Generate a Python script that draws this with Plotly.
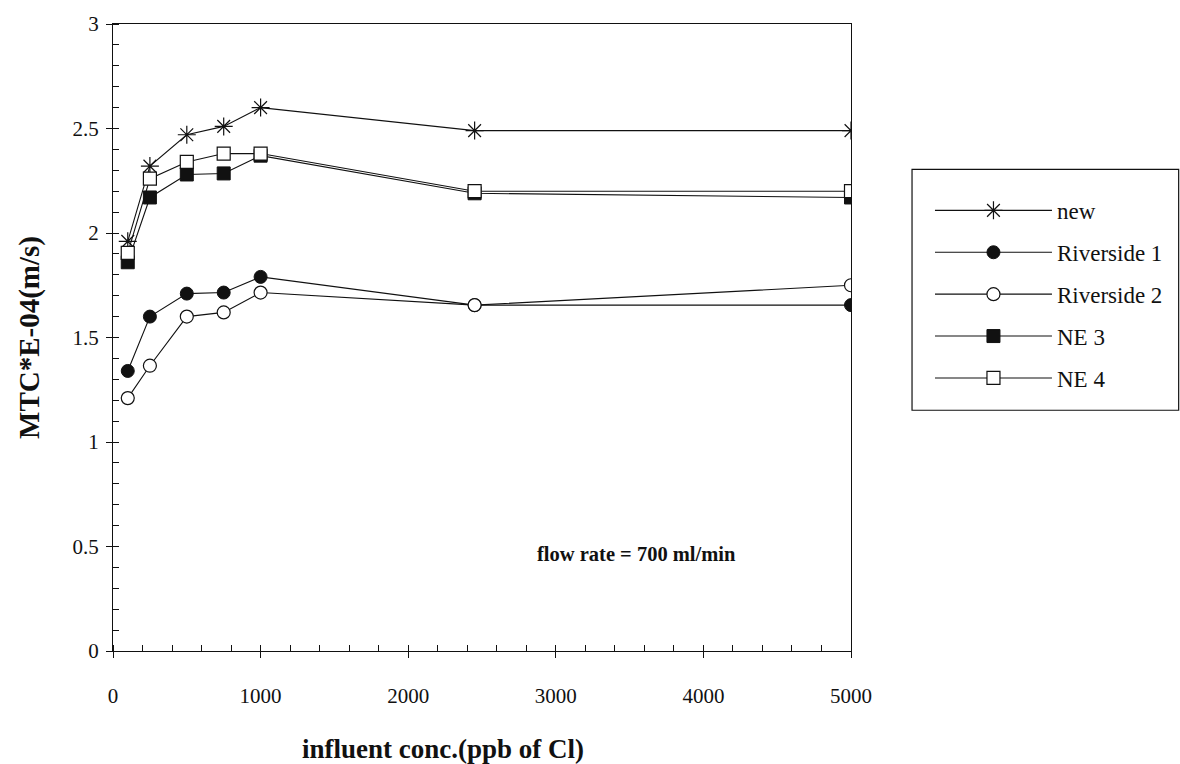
import plotly.graph_objects as go

# influent concentration (ppb of Cl)
conc = [100, 250, 500, 750, 1000, 2450, 5000]

# mass transfer coefficient, MTC * 1E-04 (m/s)
mtc_new = [1.96, 2.32, 2.47, 2.51, 2.60, 2.49, 2.49]
mtc_riverside1 = [1.34, 1.60, 1.71, 1.715, 1.79, 1.655, 1.655]
mtc_riverside2 = [1.21, 1.365, 1.60, 1.62, 1.715, 1.655, 1.75]
mtc_ne3 = [1.86, 2.17, 2.28, 2.285, 2.37, 2.19, 2.17]
mtc_ne4 = [1.905, 2.26, 2.34, 2.38, 2.38, 2.20, 2.20]

x_ticks = [0, 1000, 2000, 3000, 4000, 5000]
y_ticks = [0, 0.5, 1, 1.5, 2, 2.5, 3]
y_tick_text = ["0", "0.5", "1", "1.5", "2", "2.5", "3"]

SERIF = "Liberation Serif, Times New Roman, serif"
INK = "#111111"

series = [
    ("new", mtc_new, dict(symbol="asterisk-open", size=15, color=INK,
                          line=dict(color=INK, width=1.2))),
    ("Riverside 1", mtc_riverside1, dict(symbol="circle", size=13, color=INK,
                                         line=dict(color=INK, width=1))),
    ("Riverside 2", mtc_riverside2, dict(symbol="circle", size=13, color="white",
                                         line=dict(color=INK, width=1.2))),
    ("NE 3", mtc_ne3, dict(symbol="square", size=13, color=INK,
                           line=dict(color=INK, width=1))),
    ("NE 4", mtc_ne4, dict(symbol="square", size=13, color="white",
                           line=dict(color=INK, width=1.2))),
]

fig = go.Figure()
for i, (name, vals, marker) in enumerate(series):
    fig.add_trace(go.Scatter(
        x=conc, y=vals, name=name, mode="lines+markers",
        line=dict(color=INK, width=1.1),
        marker=marker,
        legendgroup=f"g{i}",
    ))

# inside half of the major ticks (major ticks cross the axis lines)
fig.add_trace(go.Scatter(x=[None], y=[None], xaxis="x2", yaxis="y2",
                         showlegend=False, hoverinfo="skip"))

axis_common = dict(showgrid=False, zeroline=False, showline=True,
                   linecolor=INK, linewidth=1.3, mirror=True)

fig.update_layout(
    width=1180, height=764,
    paper_bgcolor="white", plot_bgcolor="white",
    margin=dict(l=113, r=329, t=18, b=113),
    font=dict(family=SERIF, color=INK, size=21),
    xaxis=dict(
        **axis_common,
        range=[0, 5000], tickvals=x_ticks, ticks="outside", ticklen=6,
        tickcolor=INK, tickwidth=1,
        minor=dict(dtick=200, ticks="inside", ticklen=6, tickcolor=INK, tickwidth=1),
        tickfont=dict(family=SERIF, size=21, color=INK),
        ticklabelstandoff=20,
    ),
    yaxis=dict(
        **axis_common,
        range=[0, 3], tickvals=y_ticks, ticktext=y_tick_text, ticks="outside",
        ticklen=6, tickcolor=INK, tickwidth=1,
        minor=dict(dtick=0.1, ticks="inside", ticklen=6, tickcolor=INK, tickwidth=1),
        tickfont=dict(family=SERIF, size=21, color=INK),
        ticklabelstandoff=3,
        title=dict(text="<b>MTC*E-04(m/s)</b>", standoff=24,
                   font=dict(family=SERIF, size=29, color=INK)),
    ),
    xaxis2=dict(overlaying="x", matches="x", range=[0, 5000], tickvals=x_ticks,
                ticks="inside", ticklen=6, tickcolor=INK, showticklabels=False,
                showgrid=False, zeroline=False, showline=False, side="bottom"),
    yaxis2=dict(overlaying="y", matches="y", range=[0, 3], tickvals=y_ticks,
                ticks="inside", ticklen=6, tickcolor=INK, showticklabels=False,
                showgrid=False, zeroline=False, showline=False, side="left"),
    legend=dict(
        x=1.107, y=0.737, xanchor="left", yanchor="top",
        bgcolor="rgba(0,0,0,0)", borderwidth=0,
        font=dict(family=SERIF, size=23, color=INK),
        itemwidth=117, tracegroupgap=9,
    ),
    showlegend=True,
)

# frame around the legend
fig.add_shape(type="rect", xref="paper", yref="paper",
              x0=1.0827, x1=1.444, y0=0.384, y1=0.768,
              line=dict(color=INK, width=1.2), fillcolor="rgba(0,0,0,0)",
              layer="below")

# x-axis caption
fig.add_annotation(
    text="<b>influent conc.(ppb of Cl)</b>", xref="paper", yref="paper",
    x=0.447, y=-0.156, xanchor="center", yanchor="middle", showarrow=False,
    font=dict(family=SERIF, size=27, color=INK),
)

fig.add_annotation(
    text="<b>flow rate = 700 ml/min</b>", xref="paper", yref="paper",
    x=0.71, y=0.155, xanchor="center", yanchor="middle", showarrow=False,
    font=dict(family=SERIF, size=20.5, color=INK),
)

fig.write_html("out.html")
